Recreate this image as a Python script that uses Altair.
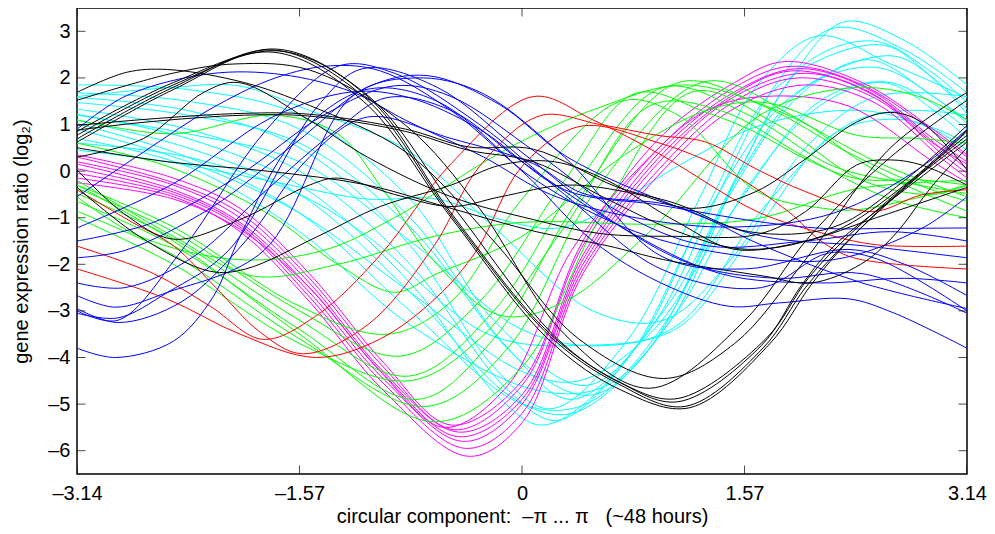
import altair as alt
import pandas as pd

X_TICKS = [-3.14, -1.57, 0, 1.57, 3.14]
Y_TICKS = [-6, -5, -4, -3, -2, -1, 0, 1, 2, 3]

RED = [
    [(-3.14, -0.4), (-2.75, -1.1), (-2.46, -1.6), (-2.16, -2.5), (-1.85, -3.45), (-1.55, -3.92), (-1.09, -3.3), (-0.62, -1.6), (-0.3, 0.1), (0.13, 1.19), (0.55, 1.0), (0.95, 0.77), (1.3, 0.62), (1.65, 0.05), (2.0, -0.44), (2.47, -0.87), (2.82, -0.51), (3.14, -0.4)],
    [(-3.14, -2.1), (-2.5, -2.75), (-1.99, -3.5), (-1.45, -4.0), (-1.0, -3.6), (-0.6, -2.7), (-0.32, -1.7), (0.0, 0.1), (0.41, 0.96), (0.95, 0.62), (1.42, 0.05), (1.88, -0.87), (2.11, -1.5), (2.34, -1.86), (3.14, -2.1)],
    [(-3.14, -1.61), (-2.6, -2.2), (-2.2, -2.9), (-1.83, -3.61), (-1.45, -3.1), (-1.0, -1.8), (-0.5, 0.16), (0.08, 1.6), (0.5, 1.1), (0.98, 0.35), (1.66, -0.87), (2.13, -1.34), (2.5, -1.58), (3.14, -1.61)],
]

MAGENTA = [
    [(-3.14, 0.35), (-2.46, -0.15), (-1.99, -0.8), (-1.5, -2.2), (-0.98, -4.1), (-0.5, -5.45), (0.0, -4.5), (0.43, -1.5), (1.0, 0.8), (1.5, 1.9), (1.85, 2.35), (2.4, 1.9), (2.9, 0.9), (3.14, 0.35)],
    [(-3.14, 0.3), (-2.46, -0.25), (-1.99, -0.9), (-1.5, -2.3), (-0.98, -4.2), (-0.48, -5.55), (0.0, -4.6), (0.43, -1.6), (1.0, 0.6), (1.5, 1.8), (1.9, 2.25), (2.4, 1.85), (2.9, 0.85), (3.14, 0.3)],
    [(-3.14, 0.2), (-2.46, -0.3), (-1.99, -1.0), (-1.5, -2.4), (-0.98, -4.3), (-0.45, -5.6), (0.0, -4.8), (0.43, -1.8), (1.0, 0.5), (1.5, 1.7), (1.95, 2.2), (2.45, 1.75), (2.9, 0.7), (3.14, 0.2)],
    [(-3.14, 0.15), (-2.46, -0.4), (-1.99, -1.1), (-1.5, -2.5), (-0.98, -4.35), (-0.45, -5.7), (0.0, -4.9), (0.43, -1.9), (1.0, 0.4), (1.5, 1.65), (1.9, 2.15), (2.45, 1.7), (2.9, 0.6), (3.14, 0.15)],
    [(-3.14, 0.05), (-2.46, -0.45), (-1.99, -1.15), (-1.5, -2.6), (-0.98, -4.45), (-0.42, -5.8), (0.0, -5.0), (0.43, -2.0), (1.0, 0.3), (1.5, 1.6), (2.0, 2.1), (2.5, 1.6), (2.95, 0.5), (3.14, 0.05)],
    [(-3.14, -0.05), (-2.46, -0.5), (-1.99, -1.2), (-1.5, -2.7), (-0.98, -4.55), (-0.4, -5.95), (0.0, -5.2), (0.43, -2.1), (1.0, 0.15), (1.5, 1.5), (1.95, 2.0), (2.5, 1.55), (2.95, 0.4), (3.14, -0.05)],
    [(-3.14, -0.15), (-2.46, -0.55), (-1.99, -1.3), (-1.5, -2.8), (-0.98, -4.7), (-0.38, -6.12), (0.0, -5.4), (0.43, -2.2), (1.0, 0.03), (1.5, 1.35), (2.0, 1.85), (2.5, 1.45), (2.95, 0.3), (3.14, -0.15)],
    [(-3.14, -0.25), (-2.46, -0.6), (-1.99, -1.25), (-1.5, -2.5), (-1.0, -4.3), (-0.55, -5.5), (-0.1, -4.6), (0.35, -1.7), (0.9, 0.3), (1.3, 1.3), (1.7, 1.6), (2.3, 1.4), (2.9, 0.2), (3.14, -0.25)],
]

CYAN = [
    [(-3.14, 1.85), (-2.36, 1.75), (-1.57, 1.2), (-0.79, -0.6), (-0.2, -3.2), (0.45, -4.6), (1.0, -3.0), (1.5, -0.2), (1.9, 2.0), (2.27, 3.2), (2.7, 2.8), (3.14, 1.85)],
    [(-3.14, 1.68), (-2.36, 1.5), (-1.57, 0.9), (-0.79, -1.0), (-0.1, -3.8), (0.35, -4.9), (0.9, -3.4), (1.4, -0.4), (1.8, 1.9), (2.2, 3.07), (2.7, 2.6), (3.14, 1.68)],
    [(-3.14, 1.58), (-2.36, 1.3), (-1.57, 0.5), (-0.79, -1.6), (-0.2, -4.2), (0.2, -5.1), (0.75, -3.6), (1.25, -0.6), (1.65, 1.8), (2.09, 2.9), (2.6, 2.3), (3.14, 1.58)],
    [(-3.14, 1.47), (-2.36, 1.2), (-1.57, 0.6), (-0.79, -1.2), (0.0, -4.1), (0.5, -4.8), (1.05, -3.2), (1.55, 0.1), (2.0, 2.3), (2.48, 2.79), (2.9, 2.1), (3.14, 1.47)],
    [(-3.14, 1.33), (-2.36, 0.9), (-1.57, 0.0), (-0.79, -2.0), (-0.1, -4.7), (0.25, -5.35), (0.8, -3.8), (1.3, -0.8), (1.8, 1.8), (2.53, 2.71), (2.9, 2.0), (3.14, 1.33)],
    [(-3.14, 1.22), (-2.36, 0.7), (-1.57, -0.3), (-0.79, -2.4), (-0.15, -4.9), (0.15, -5.45), (0.7, -4.2), (1.3, -0.9), (1.9, 1.6), (2.62, 2.47), (3.0, 1.7), (3.14, 1.22)],
    [(-3.14, 1.09), (-2.36, 0.5), (-1.57, -0.5), (-0.79, -2.6), (-0.05, -4.9), (0.35, -5.2), (0.9, -3.8), (1.45, -0.6), (1.95, 1.6), (2.44, 2.39), (2.9, 1.6), (3.14, 1.09)],
    [(-3.14, 1.02), (-2.36, 0.3), (-1.57, -0.9), (-0.79, -3.0), (0.0, -5.0), (0.45, -5.0), (1.0, -3.3), (1.55, 0.0), (2.0, 1.8), (2.51, 2.22), (2.95, 1.5), (3.14, 1.02)],
    [(-3.14, 0.7), (-2.36, 0.1), (-1.57, -1.3), (-0.79, -3.3), (0.1, -4.7), (0.6, -4.6), (1.1, -3.0), (1.6, -0.3), (2.1, 1.4), (2.55, 1.9), (2.95, 1.2), (3.14, 0.7)],
    [(-3.14, 1.2), (-2.36, 0.8), (-1.57, 0.2), (-0.79, -1.5), (0.0, -3.4), (0.55, -3.75), (1.1, -3.3), (1.7, -0.8), (2.3, 1.0), (2.7, 1.3), (3.14, 1.2)],
    [(-3.14, 0.45), (-2.5, 0.2), (-1.8, -0.2), (-1.09, -0.6), (-0.62, -0.59), (-0.15, -1.04), (0.23, -1.23), (0.55, -0.91), (1.09, 0.09), (1.7, 1.0), (2.4, 1.3), (2.9, 0.9), (3.14, 0.45)],
    [(-3.14, 1.6), (-2.46, 1.8), (-2.0, 1.83), (-1.5, 1.3), (-0.82, 0.47), (-0.2, -1.2), (0.5, -3.0), (1.0, -3.2), (1.5, -1.8), (2.0, 0.5), (2.5, 1.6), (3.14, 1.6)],
    [(-3.14, 0.9), (-2.36, 0.2), (-1.57, -0.9), (-0.79, -2.6), (0.0, -4.3), (0.4, -4.5), (0.9, -3.5), (1.5, -0.8), (2.1, 1.5), (2.6, 1.9), (3.14, 0.9)],
    [(-3.14, 0.6), (-2.36, 0.3), (-1.57, -0.5), (-1.09, -1.4), (-0.24, -3.5), (0.43, -3.74), (1.09, -3.38), (1.6, -1.5), (2.2, 0.8), (2.7, 1.1), (3.14, 0.6)],
]

GREEN = [
    [(-3.14, 1.1), (-2.46, 0.8), (-1.76, 1.2), (-1.3, 0.8), (-0.98, -0.4), (-0.6, -2.0), (-0.15, -3.1), (0.3, -2.8), (0.9, -1.3), (1.69, 1.22), (2.34, 1.79), (2.8, 1.6), (3.14, 1.1)],
    [(-3.14, 0.6), (-2.5, 0.1), (-1.8, -0.9), (-1.3, -2.0), (-0.9, -2.6), (-0.6, -2.2), (0.0, -1.4), (0.7, 0.3), (1.3, 1.3), (1.72, 1.47), (2.36, 0.77), (2.8, 0.7), (3.14, 0.6)],
    [(-3.14, -0.3), (-2.46, -1.2), (-1.57, -2.9), (-0.95, -3.5), (-0.5, -2.8), (0.0, -0.6), (0.7, 1.5), (1.1, 1.2), (1.66, -0.44), (2.13, -0.8), (2.36, -0.83), (2.82, -0.55), (3.14, -0.3)],
    [(-3.14, -0.37), (-2.46, -1.3), (-1.57, -3.0), (-0.86, -3.97), (-0.3, -2.8), (0.3, -0.2), (0.8, 1.67), (1.3, 1.26), (1.65, 0.83), (2.0, 0.26), (2.36, -0.16), (2.82, -0.19), (3.14, -0.3)],
    [(-3.14, -0.48), (-2.46, -1.45), (-1.57, -3.2), (-0.8, -4.4), (-0.2, -3.0), (0.4, -0.2), (1.0, 1.8), (1.6, 1.2), (2.2, 0.1), (2.8, -0.3), (3.14, -0.48)],
    [(-3.14, -0.65), (-2.46, -1.6), (-1.57, -3.4), (-0.74, -4.9), (-0.2, -3.6), (0.4, -0.6), (1.1, 1.9), (1.7, 1.4), (2.3, 0.4), (2.8, -0.3), (3.14, -0.65)],
    [(-3.14, -0.86), (-2.46, -1.8), (-1.57, -3.6), (-0.68, -5.05), (-0.1, -3.8), (0.5, -0.5), (1.29, 1.92), (1.9, 1.2), (2.5, 0.0), (3.14, -0.86)],
    [(-3.14, -0.3), (-2.46, -1.5), (-1.57, -3.5), (-0.62, -5.38), (0.0, -4.2), (0.55, -1.0), (1.2, 1.7), (1.8, 1.0), (2.4, -0.2), (2.9, -0.5), (3.14, -0.3)],
    [(-3.14, -0.2), (-2.46, -1.4), (-1.9, -2.25), (-1.3, -2.0), (-0.62, -1.4), (0.0, -1.1), (0.95, -1.14), (1.66, -1.02), (2.36, -0.38), (3.14, -0.2)],
    [(-3.14, -0.55), (-2.7, -1.4), (-2.0, -1.9), (-1.4, -1.7), (-0.9, -1.0), (-0.08, 0.52), (0.55, 1.37), (1.15, 1.85), (1.8, 1.3), (2.5, 0.2), (3.14, -0.55)],
    [(-3.14, -1.0), (-2.46, -2.0), (-1.57, -3.7), (-0.8, -4.5), (-0.3, -3.6), (0.3, -1.2), (0.9, 1.4), (1.4, 1.3), (2.0, 0.3), (2.6, -0.6), (3.14, -1.0)],
]

BLUE = [
    [(-3.14, -3.8), (-2.87, -4.0), (-2.46, -3.65), (-2.18, -2.7), (-1.99, -1.4), (-1.6, 0.7), (-1.1, 1.75), (-0.6, 1.5), (0.0, 0.0), (0.5, -1.5), (0.98, -2.4), (1.46, -2.9), (1.81, -2.83), (2.3, -2.74), (2.62, -3.04), (3.14, -3.8)],
    [(-3.14, -3.0), (-2.85, -3.2), (-2.4, -1.7), (-1.8, 0.9), (-1.29, 2.26), (-0.9, 2.1), (-0.3, 1.0), (0.3, -0.5), (0.98, -2.1), (1.69, -2.5), (2.16, -1.76), (2.51, -1.89), (3.14, -3.0)],
    [(-3.14, -3.05), (-2.85, -3.15), (-2.5, -2.6), (-2.07, -1.7), (-1.44, 1.4), (-1.12, 2.2), (-0.6, 1.8), (0.0, 0.4), (0.6, -1.0), (1.2, -2.0), (1.8, -2.3), (2.4, -2.2), (3.14, -3.05)],
    [(-3.14, -2.67), (-2.87, -2.92), (-2.5, -2.6), (-1.82, -1.7), (-1.2, 1.6), (-0.75, 2.0), (-0.3, 1.7), (0.3, 0.3), (0.98, -1.82), (1.57, -2.1), (2.3, -1.68), (2.7, -2.0), (3.14, -2.67)],
    [(-3.14, -1.86), (-2.8, -1.7), (-2.2, -0.8), (-1.6, 0.6), (-1.09, 1.8), (-0.67, 2.05), (-0.16, 1.43), (0.32, 0.3), (1.09, -0.76), (1.7, -1.4), (2.4, -1.6), (3.14, -1.86)],
    [(-3.14, -1.22), (-2.46, -0.27), (-1.76, 1.16), (-1.2, 1.7), (-0.8, 1.58), (-0.3, 0.9), (0.3, -0.4), (0.95, -0.72), (1.66, -1.08), (2.13, -1.23), (2.6, -1.23), (3.14, -1.22)],
    [(-3.14, -0.55), (-2.67, 0.41), (-2.2, 1.33), (-1.74, 2.0), (-1.35, 2.26), (-1.0, 2.15), (-0.5, 1.3), (0.1, -0.2), (0.8, -1.3), (1.5, -1.8), (2.2, -1.9), (2.82, -1.23), (3.14, -0.55)],
    [(-3.14, 0.9), (-2.79, 1.62), (-2.2, 2.09), (-1.69, 2.07), (-1.2, 1.7), (-0.82, 1.09), (-0.27, 0.3), (0.2, -0.5), (0.8, -1.0), (1.5, -1.2), (2.2, -0.9), (2.8, 0.05), (3.14, 0.9)],
    [(-3.14, -2.95), (-2.85, -3.25), (-2.4, -2.8), (-1.95, -1.5), (-1.5, 0.3), (-1.09, 1.16), (-0.5, 0.7), (0.08, 0.16), (0.43, -0.48), (1.09, -0.76), (1.7, -1.6), (2.4, -2.4), (3.14, -2.95)],
    [(-3.14, -2.4), (-2.8, -2.5), (-2.3, -1.8), (-1.8, -0.4), (-1.3, 0.9), (-0.95, 1.58), (-0.5, 1.3), (0.0, 0.2), (0.7, -1.2), (1.4, -2.2), (2.1, -2.4), (2.7, -2.3), (3.14, -2.4)],
    [(-3.14, -1.5), (-2.6, -1.1), (-2.0, -0.1), (-1.4, 1.2), (-0.9, 1.83), (-0.5, 1.6), (0.1, 0.4), (0.7, -0.9), (1.3, -1.6), (2.0, -1.5), (2.6, -1.3), (3.14, -1.5)],
]

BLACK = [
    [(-3.14, 0.62), (-2.46, 1.75), (-1.74, 2.62), (-1.09, 1.6), (-0.5, -0.9), (0.2, -3.5), (0.67, -4.5), (1.1, -4.95), (1.69, -3.74), (1.97, -2.46), (2.2, -1.61), (2.7, -0.4), (3.14, 0.62)],
    [(-3.14, 0.69), (-2.46, 1.8), (-1.76, 2.6), (-1.1, 1.55), (-0.5, -0.95), (0.2, -3.55), (0.67, -4.55), (1.15, -5.05), (1.7, -3.8), (2.0, -2.5), (2.25, -1.65), (2.7, -0.35), (3.14, 0.69)],
    [(-3.14, 0.77), (-2.46, 1.85), (-1.72, 2.58), (-1.08, 1.6), (-0.45, -0.9), (0.25, -3.6), (0.7, -4.55), (1.1, -4.88), (1.72, -3.6), (2.02, -2.3), (2.3, -1.4), (2.75, -0.2), (3.14, 0.77)],
    [(-3.14, 0.85), (-2.46, 1.9), (-1.75, 2.55), (-1.12, 1.5), (-0.5, -1.0), (0.2, -3.65), (0.7, -4.7), (1.18, -5.08), (1.75, -3.7), (2.05, -2.4), (2.35, -1.35), (2.8, -0.1), (3.14, 0.85)],
    [(-3.14, 1.69), (-2.79, 2.12), (-2.5, 2.18), (-1.96, 1.9), (-1.5, 1.41), (-0.82, 0.41), (-0.2, -1.5), (0.4, -3.6), (1.0, -4.45), (1.5, -3.7), (2.0, -1.9), (2.6, 0.5), (3.14, 1.69)],
    [(-3.14, 1.52), (-2.45, 2.11), (-2.02, 2.3), (-1.5, 2.17), (-0.82, 0.98), (-0.3, -0.8), (0.3, -3.5), (0.9, -4.66), (1.56, -3.24), (2.03, -1.4), (2.6, 0.3), (3.14, 1.52)],
    [(-3.14, 0.98), (-2.66, 1.11), (-1.96, 1.24), (-1.5, 1.22), (-0.82, 0.9), (-0.38, 0.52), (0.08, 0.47), (0.67, -0.34), (1.09, -0.7), (1.6, -1.3), (2.2, -1.2), (2.7, -0.2), (3.14, 0.98)],
    [(-3.14, 0.88), (-2.66, 1.05), (-1.96, 1.2), (-1.5, 1.18), (-0.82, 0.85), (-0.38, 0.45), (0.08, 0.2), (0.6, -0.6), (1.1, -1.3), (1.6, -1.68), (2.2, -1.3), (2.7, -0.3), (3.14, 0.88)],
    [(-3.14, 0.3), (-2.67, 0.7), (-2.24, 1.7), (-2.0, 1.9), (-1.51, 1.11), (-1.09, 0.3), (-0.5, -0.55), (0.08, -1.04), (0.55, -1.34), (1.09, -1.4), (1.66, -1.36), (2.0, -0.87), (2.36, 0.13), (2.6, 0.24), (2.82, 0.13), (3.14, -0.3)],
    [(-3.14, 0.5), (-2.5, 0.2), (-1.8, 0.0), (-1.09, -0.3), (-0.5, -0.8), (0.1, -1.3), (0.6, -1.6), (1.0, -1.9), (1.7, -2.25), (2.04, -2.4), (2.39, -2.0), (2.62, -1.4), (2.9, -0.3), (3.14, 0.5)],
    [(-3.14, 0.03), (-2.81, -0.91), (-2.46, -1.46), (-1.99, -1.04), (-1.5, -0.3), (-1.3, -0.15), (-0.9, -0.5), (-0.5, -0.76), (-0.15, -0.55), (0.32, -0.3), (0.79, -0.48), (1.2, -0.8), (1.65, -0.44), (2.0, 0.26), (2.36, 1.05), (2.6, 1.26), (2.82, 1.05), (3.14, 0.03)],
    [(-3.14, -0.35), (-2.7, -1.4), (-2.2, -2.15), (-1.95, -2.1), (-1.44, -1.4), (-1.0, -0.76), (-0.5, -0.3), (-0.15, 0.13), (0.23, 0.2), (0.6, -0.2), (1.1, -1.1), (1.5, -1.68), (2.0, -1.5), (2.5, -1.0), (3.14, -0.35)],
]

GROUPS = [("cyan", CYAN), ("magenta", MAGENTA), ("green", GREEN), ("red", RED), ("blue", BLUE), ("black", BLACK)]
COLORS = {"cyan": "#00ffff", "magenta": "#ff00ff", "green": "#00ff00", "red": "#ff0000", "blue": "#0000ff", "black": "#000000"}

rows = []
for name, curves in GROUPS:
    for i, pts in enumerate(curves):
        for x, y in pts:
            rows.append({"series": f"{name}-{i}", "grp": name, "x": x, "y": y})
lines_df = pd.DataFrame(rows)

side_df = pd.DataFrame([{"x": xv, "y": t} for xv in (-3.14, 3.14) for t in Y_TICKS])
tb_df = pd.DataFrame([{"x": t, "y": yv} for yv in (-6.5, 3.5) for t in X_TICKS])

xs = alt.Scale(domain=[-3.14, 3.14], nice=False, zero=False)
ys = alt.Scale(domain=[-6.5, 3.5], nice=False, zero=False)

NB = "\u00a0"
x_title = "circular component:" + NB * 2 + "\u2013\u03c0" + NB + "..." + NB + "\u03c0" + NB * 3 + "(~48" + NB + "hours)"

x_axis = alt.Axis(
    values=X_TICKS,
    title=x_title,
    labelExpr="datum.value == 0 ? '0' : (datum.value < 0 ? '\u2013' : '') + format(abs(datum.value), '.2f')",
    ticks=False, tickSize=0, domain=False, grid=False, labelFlush=False,
    labelPadding=9, titlePadding=3,
)
y_axis = alt.Axis(
    values=Y_TICKS,
    title="gene expression ratio (log\u2082)",
    labelExpr="(datum.value < 0 ? '\u2013' : '') + abs(datum.value)",
    ticks=False, tickSize=0, domain=False, grid=False, labelFlush=False,
    labelPadding=7, titlePadding=16,
)

X = alt.X("x:Q", scale=xs, axis=x_axis)
Y = alt.Y("y:Q", scale=ys, axis=y_axis)

lines = alt.Chart(lines_df).mark_line(interpolate="catmull-rom", strokeWidth=1, clip=True).encode(
    x=X, y=Y,
    color=alt.Color("grp:N", scale=alt.Scale(domain=list(COLORS.keys()), range=list(COLORS.values())), legend=None),
    detail="series:N",
)

side_ticks = alt.Chart(side_df).mark_tick(orient="horizontal", size=17, thickness=1, color="black", clip=True).encode(x=X, y=Y)
tb_ticks = alt.Chart(tb_df).mark_tick(orient="vertical", size=17, thickness=1, color="black", clip=True).encode(x=X, y=Y)

chart = alt.layer(lines, side_ticks, tb_ticks).properties(
    width=890, height=466,
    autosize=alt.AutoSizeParams(type="none"),
    padding={"left": 69, "top": 0, "right": 20, "bottom": 60},
).configure_view(
    stroke="black", strokeWidth=1.5
).configure_axis(
    labelFont="Liberation Sans", titleFont="Liberation Sans",
    labelFontSize=20, titleFontSize=20, titleFontWeight="normal",
    labelColor="black", titleColor="black",
)

chart.save("out.html", embed_options={"renderer": "svg", "actions": False})
